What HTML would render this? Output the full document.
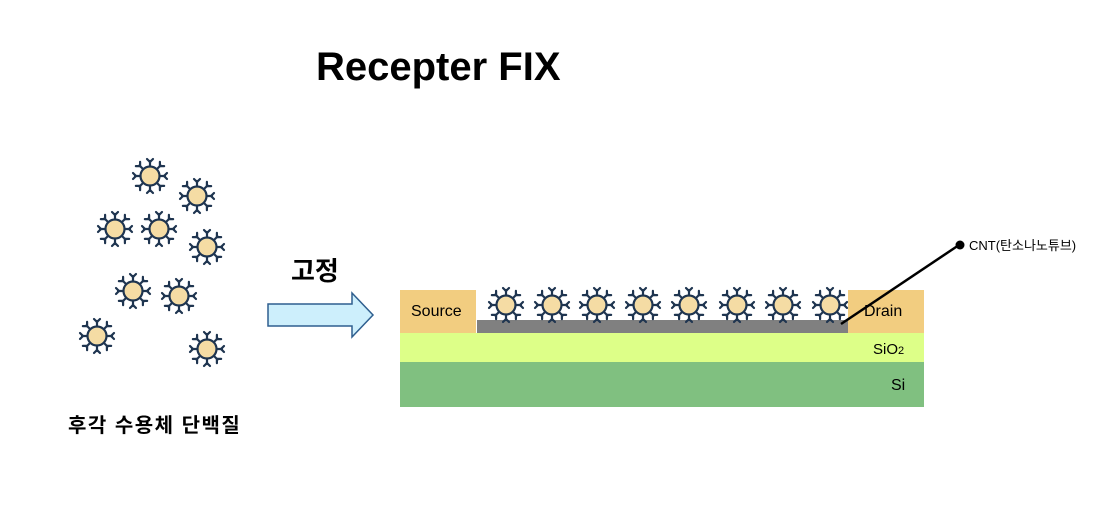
<!DOCTYPE html>
<html><head><meta charset="utf-8"><style>
body{margin:0;background:#fff;}
svg{display:block;font-family:"Liberation Sans","Noto Sans CJK KR",sans-serif;}
</style></head><body>
<svg width="1115" height="509" viewBox="0 0 1115 509" xmlns="http://www.w3.org/2000/svg">
<defs>
<g id="r">
 <g stroke="#1f3550" stroke-width="2.2" fill="none" stroke-linecap="round">
  <g id="sp"><line x1="0" y1="-9" x2="0" y2="-15"/><line x1="0" y1="-14" x2="-3" y2="-17"/><line x1="0" y1="-14" x2="3" y2="-17"/></g>
  <use href="#sp" transform="rotate(45)"/><use href="#sp" transform="rotate(90)"/><use href="#sp" transform="rotate(135)"/>
  <use href="#sp" transform="rotate(180)"/><use href="#sp" transform="rotate(225)"/><use href="#sp" transform="rotate(270)"/><use href="#sp" transform="rotate(315)"/>
 </g>
 <circle r="9.5" fill="#f5dca4" stroke="#1f3550" stroke-width="2.2"/>
</g>
</defs>
<text x="316" y="80" font-size="40" font-weight="bold" fill="#000">Recepter FIX</text>
<text x="291" y="280" font-size="26" font-weight="bold" fill="#000">고정</text>
<text x="68" y="432" font-size="20" font-weight="bold" fill="#000" letter-spacing="1.5">후각 수용체 단백질</text>
<use href="#r" x="150" y="176"/><use href="#r" x="197" y="196"/><use href="#r" x="115" y="229"/>
<use href="#r" x="159" y="229"/><use href="#r" x="207" y="247"/><use href="#r" x="133" y="291"/>
<use href="#r" x="179" y="296"/><use href="#r" x="97" y="336"/><use href="#r" x="207" y="349"/>
<polygon points="268,304 352,304 352,293 373,315 352,337 352,326 268,326" fill="#cdeffc" stroke="#2f5f8f" stroke-width="1.5"/>
<rect x="400" y="362" width="524" height="45" fill="#80c080"/>
<rect x="400" y="333" width="524" height="29" fill="#ddff88"/>
<rect x="400" y="290" width="76" height="43" fill="#f2cd80"/>
<rect x="848" y="290" width="76" height="43" fill="#f2cd80"/>
<rect x="477" y="320" width="371" height="13" fill="#808080"/>
<text x="411" y="316" font-size="16" fill="#000">Source</text>
<text x="864" y="316" font-size="16" fill="#000">Drain</text>
<text x="873" y="354" font-size="15" fill="#000">SiO<tspan font-size="11">2</tspan></text>
<text x="891" y="390" font-size="16" fill="#000">Si</text>
<use href="#r" x="506" y="305"/><use href="#r" x="552" y="305"/><use href="#r" x="597" y="305"/>
<use href="#r" x="643" y="305"/><use href="#r" x="689" y="305"/><use href="#r" x="737" y="305"/>
<use href="#r" x="783" y="305"/><use href="#r" x="830" y="305"/>
<line x1="841" y1="324" x2="959" y2="245" stroke="#000" stroke-width="2.5"/>
<circle cx="960" cy="245" r="4.5" fill="#000"/>
<text x="969" y="250" font-size="13" fill="#000">CNT(탄소나노튜브)</text>
</svg>
</body></html>
